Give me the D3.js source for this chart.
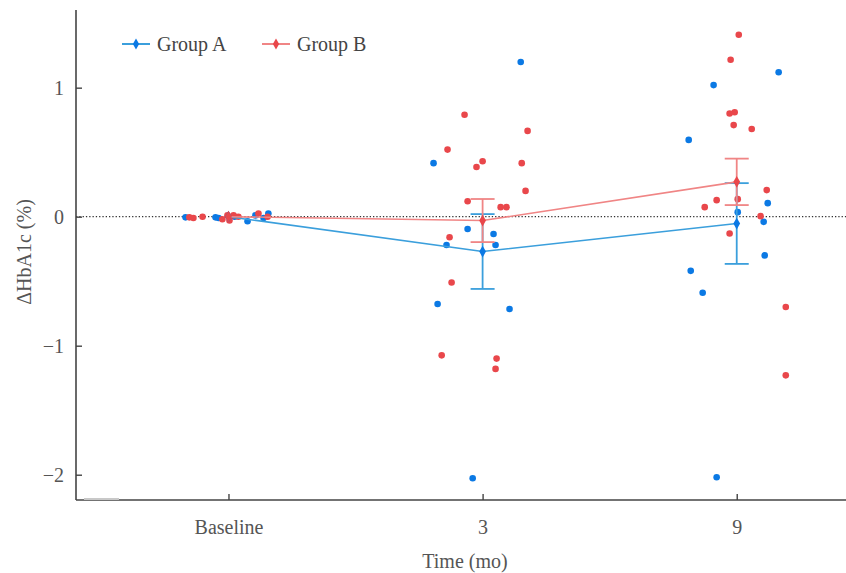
<!DOCTYPE html>
<html>
<head>
<meta charset="utf-8">
<script src="https://cdn.jsdelivr.net/npm/d3@7"></script>
<style>
  html, body { margin: 0; padding: 0; background: #fff; }
  svg { display: block; }
  text { font-family: "Liberation Serif", "Times New Roman", serif; }
</style>
</head>
<body>
<svg id="chart" width="846" height="573"></svg>
<script>
// ---- Data ----
const timeLabels = ["Baseline", "3", "9"];
const yTicks = [-2, -1, 0, 1];
const groupNames = ["Group A", "Group B"];

// group means and error (SE) at each time point
const meanA = [0, -0.27, -0.053];
const errA  = [0, 0.29, 0.313];
const meanB = [0, -0.03, 0.27];
const errB  = [0, 0.167, 0.18];

// individual (jittered) observations: jitter offset in time-index units, value
const baseA_jit = [-0.169, -0.051, -0.039, 0.024, 0.075, 0.106, 0.138, 0.157];
const baseA_val = [-0.005, -0.005, -0.01, 0.0, -0.035, 0.01, -0.01, 0.025];
const baseB_jit = [-0.154, -0.138, -0.102, -0.024, -0.004, 0.004, 0.02, 0.039, 0.118, 0.154];
const baseB_val = [-0.005, -0.01, 0.0, -0.02, 0.01, -0.03, 0.01, 0.0, 0.025, 0.0];

const m3A_jit = [0.15, -0.193, -0.059, 0.043, -0.142, 0.051, -0.177, 0.106, -0.039];
const m3A_val = [1.199, 0.415, -0.095, -0.134, -0.219, -0.219, -0.677, -0.716, -2.027];
const m3B_jit = [-0.071, 0.177, -0.138, 0.0, -0.024, 0.154, 0.169, -0.059, 0.071, 0.094, -0.13, -0.122, -0.161, 0.055, 0.051];
const m3B_val = [0.79, 0.665, 0.52, 0.43, 0.385, 0.415, 0.20, 0.12, 0.074, 0.074, -0.16, -0.51, -1.075, -1.10, -1.18];

const m9A_jit = [0.165, -0.091, -0.189, 0.122, 0.004, 0.106, 0.11, -0.181, -0.134, -0.079];
const m9A_val = [1.12, 1.02, 0.595, 0.105, 0.035, -0.04, -0.30, -0.42, -0.59, -2.02];
const m9B_jit = [0.008, -0.024, -0.008, -0.028, -0.012, 0.059, 0.118, -0.079, -0.126, 0.004, 0.094, -0.028, 0.193, 0.193];
const m9B_val = [1.41, 1.216, 0.81, 0.80, 0.71, 0.68, 0.206, 0.128, 0.074, 0.136, 0.004, -0.13, -0.70, -1.23];

// ---- Build ----
const svg = d3.select("#chart");
const mLeft = 76, mRight = 846, mTop = 10, mBottom = 500;

const x = d3.scaleLinear().domain([-0.6, 2.43]).range([mLeft, mRight]);
const y = d3.scaleLinear().domain([-2.196, 1.602]).range([mBottom, mTop]);

const colA = "#0b79e4", colB = "#e9474b";
const lineA = "#3b9fdc", lineB = "#f08585";
const axisCol = "#444";
const textCol = "#555";

function pts(t, jit, val) { return jit.map((j, i) => ({ x: t + j, v: val[i] })); }
const ptsA = [].concat(pts(0, baseA_jit, baseA_val), pts(1, m3A_jit, m3A_val), pts(2, m9A_jit, m9A_val));
const ptsB = [].concat(pts(0, baseB_jit, baseB_val), pts(1, m3B_jit, m3B_val), pts(2, m9B_jit, m9B_val));

// zero reference line
svg.append("line")
  .attr("x1", mLeft).attr("x2", mRight)
  .attr("y1", y(0)).attr("y2", y(0))
  .attr("stroke", "#333").attr("stroke-width", 1.3)
  .attr("stroke-dasharray", "1.3,2");

// dots
svg.append("g").selectAll("circle").data(ptsA).join("circle")
  .attr("cx", d => x(d.x)).attr("cy", d => y(d.v)).attr("r", 3.3).attr("fill", colA);
svg.append("g").selectAll("circle").data(ptsB).join("circle")
  .attr("cx", d => x(d.x)).attr("cy", d => y(d.v)).attr("r", 3.3).attr("fill", colB);

// mean lines + error bars
function drawGroup(means, errs, lc, dc) {
  const g = svg.append("g");
  const idx = means.map((m, i) => i);
  g.append("path")
    .attr("d", d3.line().x(i => x(i)).y(i => y(means[i]))(idx))
    .attr("fill", "none").attr("stroke", lc).attr("stroke-width", 1.6);
  idx.filter(i => errs[i] > 0).forEach(i => {
    const cx = x(i);
    g.append("line").attr("x1", cx).attr("x2", cx)
      .attr("y1", y(means[i] - errs[i])).attr("y2", y(means[i] + errs[i]))
      .attr("stroke", lc).attr("stroke-width", 1.8);
    [means[i] - errs[i], means[i] + errs[i]].forEach(v => {
      g.append("line").attr("x1", cx - 12).attr("x2", cx + 12)
        .attr("y1", y(v)).attr("y2", y(v))
        .attr("stroke", lc).attr("stroke-width", 1.8);
    });
  });
  g.selectAll("path.m").data(idx).join("path").attr("class", "m")
    .attr("d", d3.symbol(d3.symbolDiamond, 40))
    .attr("transform", i => `translate(${x(i)},${y(means[i])})`)
    .attr("fill", dc);
}
drawGroup(meanA, errA, lineA, colA);
drawGroup(meanB, errB, lineB, colB);

// axes
const yAxis = d3.axisLeft(y).tickValues(yTicks).tickSize(-6).tickPadding(12)
  .tickFormat(d => d < 0 ? "\u2212" + Math.abs(d) : String(d));
const gy = svg.append("g").attr("transform", `translate(${mLeft},0)`).call(yAxis);
const xAxis = d3.axisBottom(x).tickValues([0, 1, 2]).tickSize(-6).tickPadding(20)
  .tickFormat(i => timeLabels[i]);
const gx = svg.append("g").attr("transform", `translate(0,${mBottom})`).call(xAxis);
[gx, gy].forEach(g => {
  g.select(".domain").attr("stroke", axisCol).attr("stroke-width", 1.6);
  g.selectAll(".tick line").attr("stroke", axisCol).attr("stroke-width", 1.4);
  g.selectAll(".tick text").attr("fill", textCol).attr("font-size", 20)
    .attr("font-family", "'Liberation Serif', 'Times New Roman', serif");
});
gx.select(".domain").attr("d", `M${mLeft},0H${mRight}`);
gy.select(".domain").attr("d", `M0,${mTop}V${mBottom}`);

// small gray mark at bottom left
svg.append("line").attr("x1", 84).attr("x2", 119).attr("y1", mBottom - 1).attr("y2", mBottom - 1)
  .attr("stroke", "#c8c8c8").attr("stroke-width", 2);

// axis titles
svg.append("text").attr("x", (mLeft + mRight) / 2 + 4).attr("y", 568)
  .attr("text-anchor", "middle").attr("font-size", 20).attr("fill", textCol)
  .text("Time (mo)");
svg.append("text")
  .attr("transform", `translate(31,${(mTop + mBottom) / 2 - 3}) rotate(-90)`)
  .attr("text-anchor", "middle").attr("font-size", 20).attr("fill", textCol)
  .text("ΔHbA1c (%)");

// legend
const legend = [
  { name: groupNames[0], lc: lineA, dc: colA, x0: 122 },
  { name: groupNames[1], lc: lineB, dc: colB, x0: 262 }
];
legend.forEach(l => {
  const g = svg.append("g").attr("transform", `translate(${l.x0},44)`);
  g.append("line").attr("x1", 0).attr("x2", 28).attr("stroke", l.lc).attr("stroke-width", 2);
  g.append("path").attr("d", d3.symbol(d3.symbolDiamond, 34)).attr("transform", "translate(14,0)").attr("fill", l.dc);
  g.append("text").attr("x", 35).attr("y", 7).attr("font-size", 20).attr("fill", "#444").text(l.name);
});
</script>
</body>
</html>
